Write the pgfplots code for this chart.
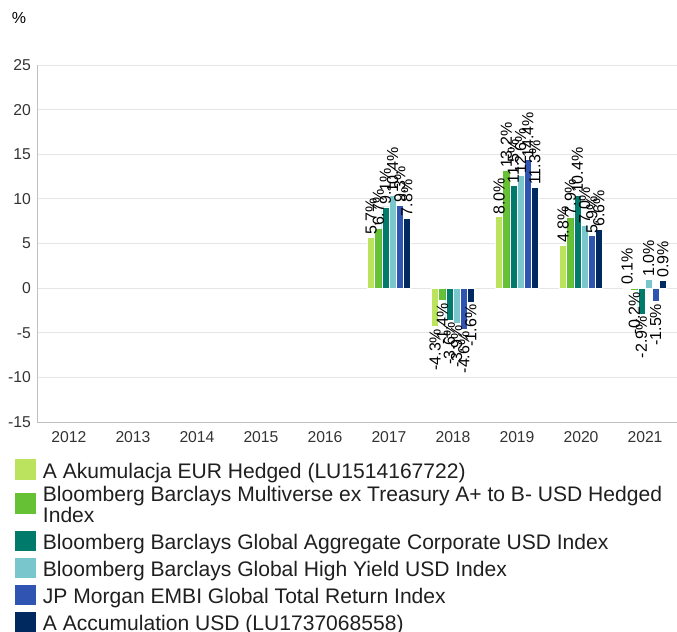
\documentclass[border=0pt]{standalone}
\usepackage{pgfplots}
\pgfplotsset{compat=1.18}
\usepackage{fontspec}
\setmainfont{Liberation Sans}
\definecolor{cA}{HTML}{BBE35E}
\definecolor{cB}{HTML}{66C234}
\definecolor{cC}{HTML}{007A6A}
\definecolor{cD}{HTML}{79C7CD}
\definecolor{cE}{HTML}{3054B2}
\definecolor{cF}{HTML}{00295F}
\definecolor{gridc}{HTML}{E6E6E6}
\definecolor{axc}{HTML}{C0C0C0}
\definecolor{tickc}{HTML}{333333}
\begin{document}
\begin{tikzpicture}
\useasboundingbox (-27.75pt,-156.75pt) rectangle (480pt,316.5pt);
\begin{axis}[
  scale only axis,
  width=480pt, height=267.75pt,
  ybar=0pt,
  bar width=0.112,
  xmin=-0.5, xmax=9.5,
  ymin=-15, ymax=25,
  xtick={0,...,9},
  xticklabels={2012,2013,2014,2015,2016,2017,2018,2019,2020,2021},
  ytick={-15,-10,...,25},
  ymajorgrids,
  grid style={gridc, line width=0.6pt},
  axis x line*=bottom,
  axis y line*=left,
  axis line style={axc, line width=0.6pt},
  major tick length=0pt,
  tick label style={font=\fontsize{11.8}{13}\selectfont, text=tickc},
  xticklabel style={yshift=-3.5pt},
  yticklabel style={xshift=-1pt},
  /pgf/number format/assume math mode=true,
  clip=false,
  nodes near coords={\pgfmathprintnumber[fixed,fixed zerofill,precision=1,assume math mode=true]{\pgfplotspointmeta}\%},
  visualization depends on={rawy \as \rawy},
  every node near coord/.append style={rotate=90, font=\fontsize{12}{13}\selectfont, text=black, inner sep=1.5pt},
  every node near coord/.append code={\ifdim\rawy pt<0pt \pgfkeysalso{anchor=east}\else\pgfkeysalso{anchor=west}\fi},
  every axis plot/.append style={draw=white, line width=0.5pt},
  legend image code/.code={\fill[#1,draw=none] (0pt,-5.25pt) rectangle (15.5pt,10.25pt);},
  legend style={at={(0,0)}, anchor=north west, xshift=-16.5pt, yshift=-27.75pt,
    draw=none, fill=none, inner sep=0pt, row sep=2.65pt,
    font=\fontsize{15.8}{16}\selectfont, text=black!88,
    cells={anchor=base west},
    nodes={inner xsep=5.25pt, inner ysep=0pt, text depth=}},
  legend cell align=left,
]
\addplot[fill=cA] coordinates {(5,5.7) (6,-4.3) (7,8.0) (8,4.8) (9,0.1)};
\addlegendentry{A Akumulacja EUR Hedged (LU1514167722)}
\addplot[fill=cB] coordinates {(5,6.7) (6,-1.4) (7,13.2) (8,7.9) (9,-0.2)};
\addlegendentry{\vtop{\hbox{Bloomberg Barclays Multiverse ex Treasury A+ to B- USD Hedged}\hbox{Index\vphantom{(}}}}
\addplot[fill=cC] coordinates {(5,9.1) (6,-3.6) (7,11.5) (8,10.4) (9,-2.9)};
\addlegendentry{Bloomberg Barclays Global Aggregate Corporate USD Index}
\addplot[fill=cD] coordinates {(5,10.4) (6,-3.9) (7,12.6) (8,7.0) (9,1.0)};
\addlegendentry{Bloomberg Barclays Global High Yield USD Index}
\addplot[fill=cE] coordinates {(5,9.3) (6,-4.6) (7,14.4) (8,5.9) (9,-1.5)};
\addlegendentry{JP Morgan EMBI Global Total Return Index}
\addplot[fill=cF] coordinates {(5,7.8) (6,-1.6) (7,11.3) (8,6.6) (9,0.9)};
\addlegendentry{A Accumulation USD (LU1737068558)}
\end{axis}
\node[anchor=west, inner sep=0pt, font=\fontsize{12}{13}\selectfont] at (-19pt,303pt) {\%};
\end{tikzpicture}
\end{document}
